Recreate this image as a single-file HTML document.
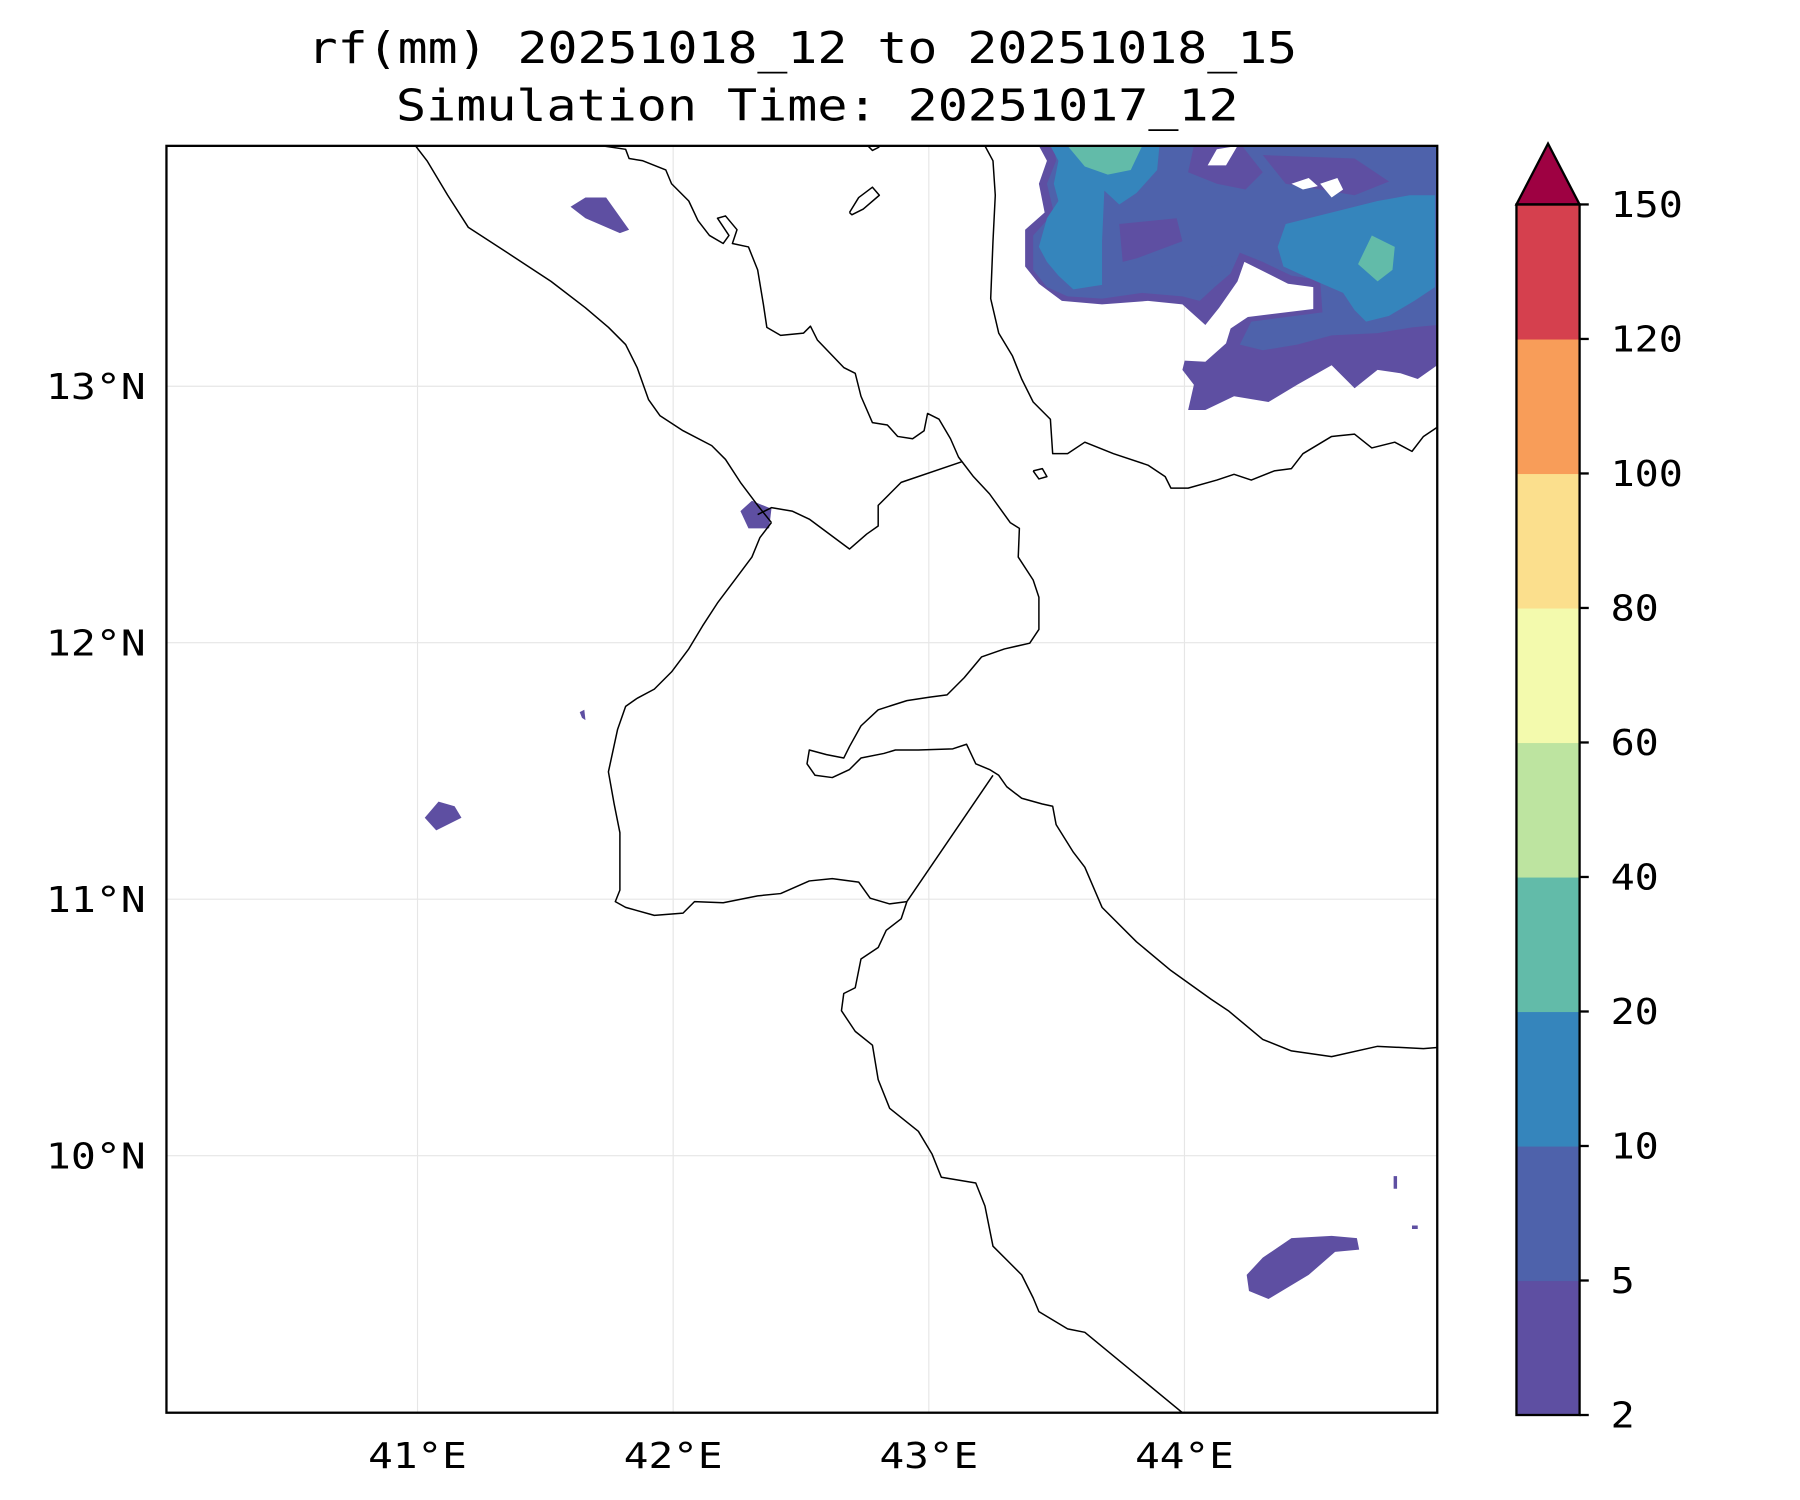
<!DOCTYPE html>
<html><head><meta charset="utf-8">
<style>
html,body{margin:0;padding:0;background:#fff;}
svg{display:block;}
text{font-family:"DejaVu Sans Mono","Liberation Mono",monospace;fill:#000;}
</style></head>
<body>
<svg id="chart" width="1800" height="1500" viewBox="0 0 1568 1306" preserveAspectRatio="none" xmlns="http://www.w3.org/2000/svg">
  <text x="699" y="55" text-anchor="middle" font-size="38" textLength="862" lengthAdjust="spacingAndGlyphs">rf(mm) 20251018_12 to 20251018_15</text>
  <text x="712" y="105" text-anchor="middle" font-size="38" textLength="734" lengthAdjust="spacingAndGlyphs">Simulation Time: 20251017_12</text>
  <defs><clipPath id="plotclip"><rect x="145" y="127" width="1107" height="1103"/></clipPath></defs>
  <g id="grid"></g>
  <g id="rain" clip-path="url(#plotclip)"></g>
  <g id="coast" clip-path="url(#plotclip)" fill="none" stroke="#000" stroke-width="1.3" stroke-linejoin="round"></g>
  <rect x="145" y="127" width="1107" height="1103" fill="none" stroke="#000" stroke-width="2"/>
  <g id="axes"></g>
  <g id="cbar"></g>
</svg>
<script>
// ---- data ----
const lonTicks = [41, 42, 43, 44];
const latTicks = [13, 12, 11, 10];
const levels = [2, 5, 10, 20, 40, 60, 80, 100, 120, 150];
const levelColors = ["#5e4fa2","#4e62ab","#3585bc","#62bba9","#bde4a0","#f3faad","#fbdf8d","#f89d59","#d5404e"];
const extendColor = "#9e0142";

const rainLevel = [0,1,2,3, 0,0,0, 2,3, 0,0,0,0,0,0,0, 1,1,1,1];
function P(arr){
  const out=[]; for(let i=0;i<arr.length;i+=2){ out.push([40+(arr[i]-141)/222.7, 14-(arr[i+1]-113)/223.3]); } return out;
}
const rainShapes = [
  P([905,127,912,140,905,160,910,185,893,200,893,232,905,247,925,262,960,265,1000,262,1030,265,1050,283,1062,268,1078,245,1084,228,1100,236,1122,247,1144,250,1144,269,1087,276,1072,286,1068,299,1050,315,1032,314,1030,322,1040,335,1035,357,1050,357,1075,345,1105,350,1130,335,1160,318,1180,338,1200,322,1220,325,1235,330,1252,318,1252,127]),
  P([918,127,920,140,912,160,918,185,900,205,900,235,912,250,930,258,960,260,995,255,1030,258,1045,262,1058,250,1072,238,1080,220,1100,228,1125,240,1150,244,1152,272,1090,280,1080,300,1100,305,1130,300,1160,292,1200,290,1230,285,1252,283,1252,127]),
  P([915,127,1010,127,1008,148,990,168,975,178,962,166,960,210,960,248,935,252,922,240,912,228,905,215,912,190,922,175,918,160,922,140]),
  P([930,127,995,127,985,148,965,152,945,145]),
  P([1040,127,1082,127,1100,150,1085,165,1060,160,1035,150]),
  P([975,195,1025,190,1030,210,990,225,978,228]),
  P([1100,135,1180,138,1210,158,1180,170,1150,165,1120,160]),
  P([1120,195,1160,185,1200,175,1228,170,1250,170,1250,250,1232,262,1210,275,1190,280,1180,270,1170,255,1140,242,1118,232,1113,215]),
  P([1195,205,1215,215,1213,235,1200,245,1183,230]),
  P([497,180,510,172,528,172,548,200,540,203,510,190]),
  P([645,445,655,436,672,443,670,460,652,460]),
  P([370,712,382,698,396,702,402,712,380,723]),
  P([1086,1110,1100,1095,1125,1078,1160,1076,1182,1078,1184,1088,1163,1090,1140,1110,1105,1131,1088,1124]),
  P([505,620,509,618,510,627,507,625]),
  P([1214,1024,1217,1024,1217,1035,1214,1035]),
  P([1230,1067,1235,1067,1235,1070,1230,1070]),
  P([1060,130,1078,127,1068,144,1052,144]),
  P([1125,160,1140,155,1148,162,1135,165]),
  P([1150,160,1165,155,1170,165,1160,172]),
  P([1055,232,1066,230,1062,236])
];

const coastLines = [
  P([362,127,372,140,390,170,408,198,445,222,480,245,510,268,530,285,545,300,555,320,565,348,575,362,595,375,620,388,632,400,645,420,660,440,672,455]),
  P([672,455,662,468,655,485,640,505,625,525,612,545,600,565,585,585,570,600,555,608,545,615,538,635,530,672,535,700,540,725,540,775,536,785,545,790,570,797,595,795,605,785,630,786,660,780,680,778,705,767,725,765,748,768,758,782,775,787,790,785]),
  P([790,785,865,675]),
  P([790,785,785,800,772,810,765,825,750,835,745,860,735,865,733,880,745,898,760,910,765,940,775,965,800,985,812,1005,820,1025,850,1030,858,1050,865,1085,880,1100,890,1110,900,1130,905,1142,930,1157,945,1160,1030,1230]),
  P([660,448,672,442,690,445,705,452,740,478,755,465,765,458,765,440,775,430,785,420,838,402]),
  P([514,127,525,127,545,130,548,138,560,140,580,148,585,160,600,175,608,192,618,205,630,212,635,205,625,190,632,188,642,200,638,212,652,215,660,235,665,265,668,285,680,292,700,290,706,284,712,296,735,320,745,325,750,345,760,368,773,370,782,380,795,382,805,375,808,360,818,365,828,382,835,398,848,415,862,430,880,455,888,460,887,485,900,505,905,520,905,548,897,560,875,565,855,572,840,590,825,605,810,607,790,610,765,618,750,632,740,650,735,660,720,657,705,653,703,665,710,675,725,677,740,670,750,660,770,656,780,653,800,653,830,652,842,648,850,665,862,670,870,675,877,685,890,695,908,700,917,702,920,718,935,742,945,755,960,790,990,820,1020,845,1055,870,1070,880,1100,905,1125,915,1160,920,1200,911,1240,913,1252,912]),
  P([858,127,865,140,867,170,865,210,863,260,870,290,882,310,890,330,900,350,915,365,917,395,930,395,945,385,970,395,1000,405,1015,415,1020,425,1035,425,1060,418,1075,413,1090,418,1110,410,1125,408,1135,395,1160,380,1180,378,1195,390,1215,385,1230,393,1240,380,1252,372]),
  P([740,185,748,172,760,163,766,170,752,182,742,187,740,185]),
  P([900,410,908,408,912,415,905,417,900,410]),
  P([756,127,760,131,766,128])
];

// ---- axis functions ----
const X0=141, KX=222.7, Y0=113, KY=223.3;
function xs(lon){ return X0 + (lon-40)*KX; }
function ys(lat){ return Y0 + (14-lat)*KY; }
const NS="http://www.w3.org/2000/svg";
function mk(tag, attrs, parent){ const e=document.createElementNS(NS,tag); for(const k in attrs) e.setAttribute(k,attrs[k]); parent.appendChild(e); return e; }
function pts(poly){ return poly.map(p=>xs(p[0]).toFixed(1)+","+ys(p[1]).toFixed(1)).join(" "); }

const grid=document.getElementById('grid');
lonTicks.forEach(v=>{
  const l=mk('line',{x1:xs(v),x2:xs(v),y1:127,y2:1230,stroke:'#e6e6e6','stroke-width':1},grid);
  
  
});
latTicks.forEach(v=>{
  const l=mk('line',{x1:145,x2:1252,y1:ys(v),y2:ys(v),stroke:'#e6e6e6','stroke-width':1},grid);
  
  
});

const rain=document.getElementById('rain');
rainShapes.forEach((s,i)=>{
  const isHole = i>=16 && i<=18;
  const p=mk('polygon',{points:pts(s),fill:isHole?'#fff':levelColors[rainLevel[i]]},rain);
  
  
});

const coast=document.getElementById('coast');
coastLines.forEach(s=>{
  const p=mk('polyline',{points:pts(s)},coast);
  
  
});

const axes=document.getElementById('axes');
lonTicks.forEach(v=>{
  const t=mk('text',{x:xs(v),y:1278,'text-anchor':'middle','font-size':31,textLength:86,lengthAdjust:'spacingAndGlyphs'},axes);
  t.textContent=v+"°E";
  
  
});
latTicks.forEach(v=>{
  const t=mk('text',{x:127,y:ys(v)+11,'text-anchor':'end','font-size':31,textLength:87,lengthAdjust:'spacingAndGlyphs'},axes);
  t.textContent=v+"°N";
  
  
});

const cb=document.getElementById('cbar');
const CB_X=1321, CB_W=55, CB_TOP=178, CB_BOT=1232;
function cy(i){ return CB_BOT - i*(CB_BOT-CB_TOP)/(levels.length-1); }
levelColors.forEach((c,i)=>{
  const r=mk('rect',{x:CB_X,y:cy(i+1),width:CB_W,height:cy(i)-cy(i+1)+0.5,fill:c},cb);
  
  
});
const tri=mk('polygon',{points:`${CB_X},${CB_TOP} ${CB_X+CB_W/2},125 ${CB_X+CB_W},${CB_TOP}`,fill:extendColor,stroke:'#000','stroke-width':2},cb);


const fr=mk('rect',{x:CB_X,y:CB_TOP,width:CB_W,height:CB_BOT-CB_TOP,fill:'none',stroke:'#000','stroke-width':2},cb);


levels.forEach((v,i)=>{
  const tk=mk('line',{x1:CB_X+CB_W,x2:CB_X+CB_W+8,y1:cy(i),y2:cy(i),stroke:'#000','stroke-width':2},cb);
  
  
  const s=String(v);
  const t=mk('text',{x:1403,y:cy(i)+11,'font-size':31,textLength:s.length*21,lengthAdjust:'spacingAndGlyphs'},cb);
  t.textContent=s;
  
  
});
</script>
</body></html>
